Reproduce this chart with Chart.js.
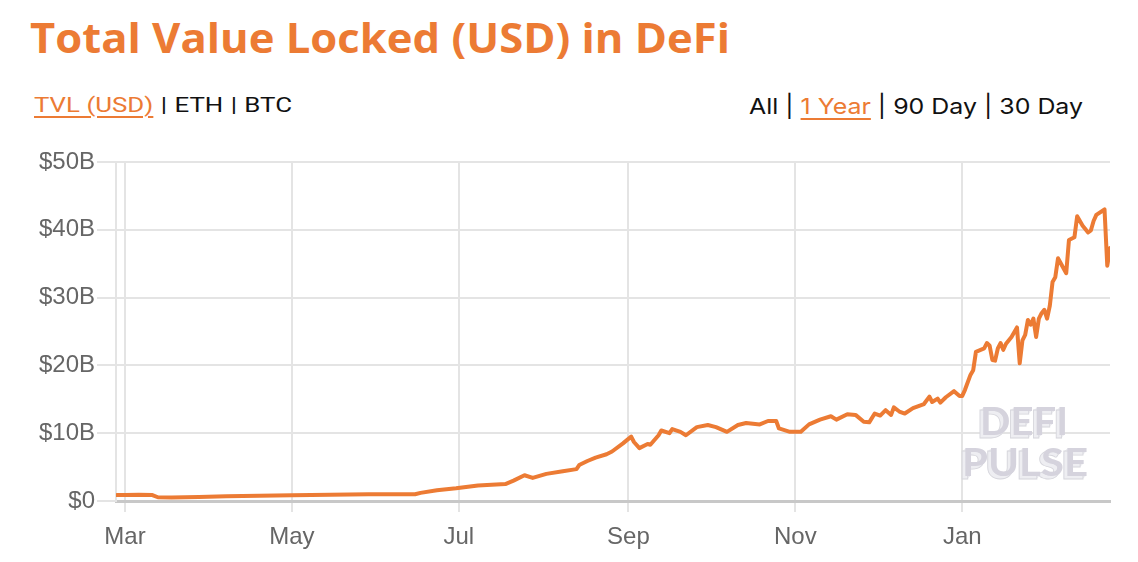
<!DOCTYPE html>
<html lang="en">
<head>
<meta charset="UTF-8">
<title>Total Value Locked (USD) in DeFi</title>
<script src="https://cdn.jsdelivr.net/npm/chart.js"></script>
<style>
  body { margin: 0; width: 1138px; height: 562px; background: #fff; position: relative; overflow: hidden; }
  #title { position: absolute; left: 30px; top: 17px; font: 700 41px "Open Sans", sans-serif; line-height: 1; color: #ec7b34; white-space: nowrap; transform-origin: 0 0; }
  .tabs { position: absolute; top: 94px; font-size: 22px; line-height: 1; color: #111; white-space: nowrap; transform-origin: 0 0; }
  #leftTabs { left: 34px; font-family: Roboto, sans-serif; font-size: 21px; top: 95px; }
  #rightTabs { left: 749px; font-family: Inter, sans-serif; top: 95px; }
  .sep { margin: 0 6px; }
  .on { color: #ec7b34; text-decoration: underline; text-underline-offset: 4px; text-decoration-thickness: 1.5px; }
  #myChart { position: absolute; left: 0; top: 0; }
</style>
</head>
<body>
  <div id="title">Total Value Locked (USD) in DeFi</div>
  <div id="leftTabs" class="tabs"><span class="on">TVL (USD)</span><span class="sep">|</span>ETH<span class="sep">|</span>BTC</div>
  <div id="rightTabs" class="tabs">All | <span class="on">1 Year</span> | 90 Day | 30 Day</div>
  <canvas id="myChart" width="1138" height="562"></canvas>
<script>
  // days counted from 1 Mar 2020
  const days = [-3, 0, 5, 10, 12, 17, 27, 37, 49, 61, 75, 89, 106, 108, 114, 121, 129, 139, 142, 146,
    149, 154, 160, 165, 166, 169, 172, 176, 178, 182, 185, 186, 188, 191, 192, 195, 196, 199, 200, 203,
    205, 209, 213, 216, 220, 224, 227, 232, 235, 238, 239, 243, 247, 250, 254, 258, 260, 264, 267, 270,
    272, 274, 276, 278, 280, 281, 283, 285, 288, 292, 294, 295, 297, 298, 300, 303, 305, 306, 307, 309,
    310, 311, 314, 315, 316, 317, 318, 319, 320, 321, 322, 324, 326, 327, 328, 329, 330, 331, 332, 333,
    334, 335, 336, 337, 338, 339, 340, 341, 344, 345, 347, 348, 350, 352, 353, 354, 355, 358, 359, 360];

  // TVL in billions of USD
  const tvl = [0.88, 0.9, 0.92, 0.88, 0.55, 0.52, 0.6, 0.69, 0.76, 0.84, 0.92, 0.99, 0.99, 1.2, 1.6, 1.87, 2.3, 2.5, 3.0, 3.8,
    3.4, 4.0, 4.4, 4.7, 5.3, 5.9, 6.4, 6.9, 7.3, 8.5, 9.5, 8.7, 7.8, 8.4, 8.3, 9.7, 10.4, 10.0, 10.6, 10.2,
    9.7, 10.9, 11.2, 10.9, 10.2, 11.2, 11.5, 11.3, 11.8, 11.8, 10.7, 10.2, 10.2, 11.3, 12.0, 12.5, 12.0, 12.8, 12.7, 11.7,
    11.6, 12.9, 12.6, 13.4, 12.7, 13.8, 13.2, 12.9, 13.7, 14.3, 15.4, 14.6, 15.1, 14.5, 15.3, 16.2, 15.5, 15.5, 16.4, 18.6,
    19.3, 22.0, 22.5, 23.3, 22.9, 20.8, 20.7, 22.5, 23.3, 22.3, 23.2, 24.2, 25.6, 20.3, 23.7, 24.5, 26.7, 26.0, 26.9, 24.2,
    26.9, 27.7, 28.2, 26.9, 28.8, 32.3, 33.0, 35.8, 33.6, 38.5, 38.9, 42.0, 40.6, 39.6, 39.9, 41.3, 42.2, 43.0, 34.7, 37.3];

  const monthDays = [0, 61, 122, 184, 245, 306];
  const monthLabels = ['Mar', 'May', 'Jul', 'Sep', 'Nov', 'Jan'];
  const yTicks = [0, 10, 20, 30, 40, 50];
  const yTickLabels = ['$0', '$10B', '$20B', '$30B', '$40B', '$50B'];

  const orange = '#ec7b34';
  const gridColor = '#e4e4e4';
  const tickFont = { family: '"Liberation Sans", Arial, sans-serif', size: 24 };

  // squeeze or stretch the header texts to the widths they have in the picture
  function fitText(id, width) {
    const el = document.getElementById(id);
    const w = el.getBoundingClientRect().width;
    el.style.transform = 'scaleX(' + (width / w) + ')';
  }
  fitText('title', 700);
  fitText('leftTabs', 258);
  fitText('rightTabs', 334);

  const watermark = {
    id: 'watermark',
    beforeDatasetsDraw(chart) {
      const ctx = chart.ctx;
      const words = [
        { text: 'DEFI', x: 980, y: 435, w: 88, size: 38 },
        { text: 'PULSE', x: 962, y: 476, w: 126, size: 38 }
      ];
      ctx.save();
      ctx.textBaseline = 'alphabetic';
      words.forEach(o => {
        ctx.font = 'bold ' + o.size + 'px Lato, sans-serif';
        const sx = o.w / ctx.measureText(o.text).width;
        ctx.save();
        ctx.translate(o.x, o.y);
        ctx.scale(sx, 1);
        for (let i = 3; i >= 1; i--) {
          ctx.fillStyle = '#eeeef2';
          ctx.fillText(o.text, -i, i);
        }
        ctx.lineWidth = 0.8;
        ctx.strokeStyle = '#d6d6dc';
        ctx.strokeText(o.text, -3, 3);
        ctx.fillStyle = '#d5d3dd';
        ctx.fillText(o.text, 0, 0);
        ctx.restore();
      });
      ctx.restore();
    }
  };

  const ctx = document.getElementById('myChart').getContext('2d');
  new Chart(ctx, {
    type: 'line',
    data: {
      datasets: [{
        data: days.map((d, i) => ({ x: d, y: tvl[i] })),
        borderColor: orange,
        borderWidth: 4,
        borderJoinStyle: 'round',
        borderCapStyle: 'round',
        pointRadius: 0,
        fill: false,
        tension: 0
      }]
    },
    options: {
      responsive: false,
      animation: false,
      devicePixelRatio: 1,
      layout: { padding: { top: 162, right: 28, left: 0, bottom: 0 } },
      plugins: {
        legend: { display: false },
        tooltip: { enabled: false }
      },
      scales: {
        x: {
          type: 'linear',
          min: -3.3,
          max: 360,
          afterBuildTicks: s => { s.ticks = monthDays.map(v => ({ value: v })); },
          afterFit: s => { s.height = 61; },
          grid: { color: gridColor, lineWidth: 2, tickLength: 11 },
          border: { color: '#c8c8c8', width: 3 },
          ticks: {
            autoSkip: false,
            maxRotation: 0,
            padding: 11,
            color: '#666',
            font: tickFont,
            callback: v => monthLabels[monthDays.indexOf(v)]
          }
        },
        y: {
          min: 0,
          max: 50,
          afterBuildTicks: s => { s.ticks = yTicks.map(v => ({ value: v })); },
          afterFit: s => { s.width = 116; },
          grid: { color: gridColor, lineWidth: 2, tickLength: 19 },
          border: { color: gridColor, width: 2 },
          ticks: {
            padding: 2,
            color: '#666',
            font: tickFont,
            callback: v => yTickLabels[yTicks.indexOf(v)]
          }
        }
      }
    },
    plugins: [watermark]
  });
</script>
</body>
</html>
